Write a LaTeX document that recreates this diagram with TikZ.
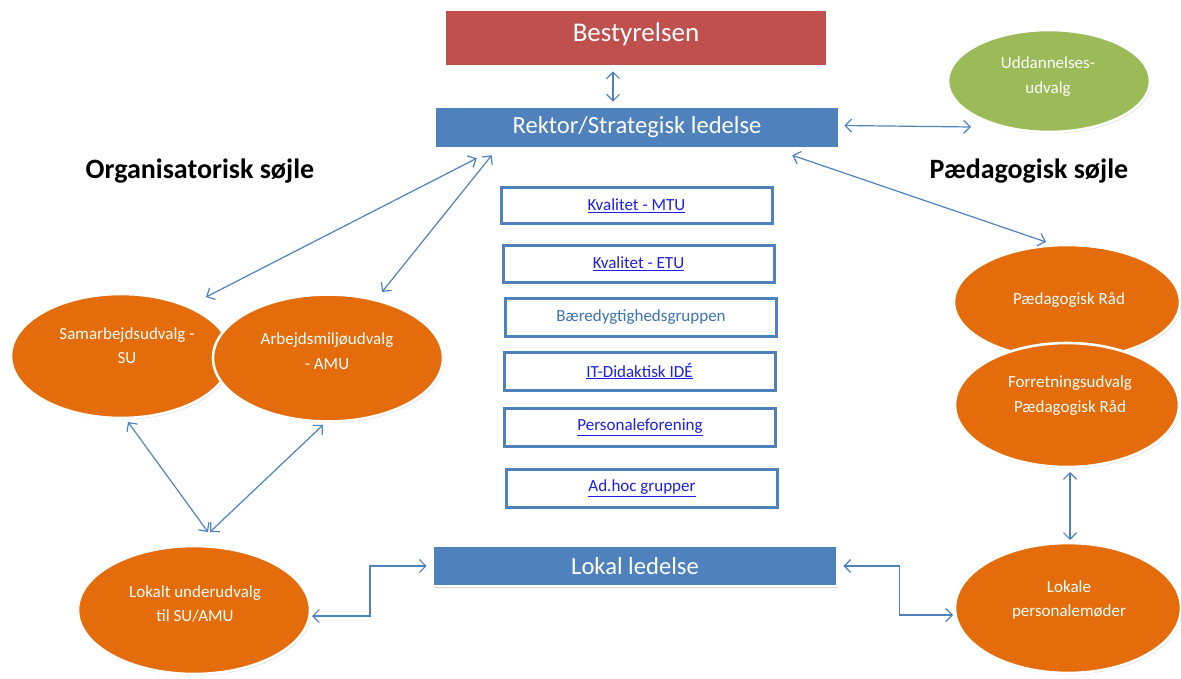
\documentclass[tikz,border=0pt]{standalone}
\usepackage{fontspec}
\setmainfont{Carlito}
\usetikzlibrary{shapes.geometric,arrows.meta,shadows,calc}
\definecolor{redF}{RGB}{192,80,77}
\definecolor{blueF}{RGB}{79,129,189}
\definecolor{greenF}{RGB}{155,187,89}
\definecolor{orangeF}{RGB}{228,108,10}
\definecolor{linkC}{RGB}{30,30,235}
\definecolor{steelC}{RGB}{60,115,180}
\definecolor{arrowC}{RGB}{79,129,189}
\tikzset{
  softshadow/.style={drop shadow={shadow xshift=1.2pt,shadow yshift=-1.5pt,opacity=0.22,fill=black!70}},
  ell/.style={ellipse,draw=white,line width=2.6pt,inner sep=0pt,softshadow},
  orangeell/.style={ell,fill=orangeF},
  etxt/.style={text=white,align=center,inner sep=0pt,font=\fontsize{17}{24.5}\selectfont},
  bigbox/.style={rectangle,draw=white,line width=2.6pt,inner sep=0pt,text=white,softshadow},
  grp/.style={rectangle,draw=blueF,line width=3pt,fill=white,minimum width=271pt,minimum height=36pt,inner sep=0pt,font=\fontsize{17}{20}\selectfont,text=linkC},
  title/.style={font=\fontsize{28}{32}\selectfont\bfseries,text=black,inner sep=0pt},
  conn/.style={draw=arrowC,line width=1.2pt,{Straight Barb[length=6.5pt,width=13pt]}-{Straight Barb[length=6.5pt,width=13pt]}}
}
\begin{document}
\begin{tikzpicture}[x=1pt,y=-1pt]
\useasboundingbox (0,0) rectangle (1181,679);
% top boxes
\node[bigbox,fill=redF,minimum width=382pt,minimum height=56pt,font=\fontsize{27}{30}\selectfont] (best) at (636,38) {\raisebox{3.5pt}[\height][\depth]{Bestyrelsen}};
\node[bigbox,fill=blueF,minimum width=404pt,minimum height=41pt,font=\fontsize{24.6}{28}\selectfont] (rektor) at (637,127.5) {Rektor/Strategisk ledelse};
\node[bigbox,fill=blueF,minimum width=404pt,minimum height=40pt,font=\fontsize{24.6}{28}\selectfont] (lokal) at (635,566) {Lokal ledelse};
% green ellipse
\node[ell,fill=greenF,minimum width=202pt,minimum height=102pt] (udd) at (1049,81) {};
\node[etxt] (uddt) at (1048,76.5) {Uddannelses-\\udvalg};
% titles
\node[title] (orgt) at (200,171) {Organisatorisk søjle};
\node[title] (paedt) at (1029,171) {Pædagogisk søjle};
% left ellipses
\node[orangeell,minimum width=220pt,minimum height=124pt] (su) at (121,356) {};
\node[etxt] (sut) at (127,345.5) {Samarbejdsudvalg -\\SU};
\node[orangeell,minimum width=230pt,minimum height=127pt] (amu) at (328,358) {};
\node[etxt] (amut) at (327,351) {Arbejdsmiljøudvalg\\- AMU};
\node[orangeell,minimum width=232pt,minimum height=128pt] (lokalt) at (194,610) {};
\node[etxt] (lokaltt) at (195,604) {Lokalt underudvalg\\til SU/AMU};
% right ellipses
\node[orangeell,minimum width=226pt,minimum height=114pt] (pr) at (1067,302) {};
\node[etxt] (prt) at (1069,300) {Pædagogisk Råd};
\node[orangeell,minimum width=224pt,minimum height=124pt] (fpr) at (1067,405) {};
\node[etxt] (fprt) at (1070,395.5) {Forretningsudvalg\\Pædagogisk Råd};
\node[orangeell,minimum width=226pt,minimum height=130pt] (lokale) at (1068,608) {};
\node[etxt] (lokalet) at (1069,600) {Lokale\\personalemøder};
% middle group boxes
\node[grp] (g1) at (636.5,205.5) {\underline{Kvalitet - MTU}};
\node[grp] (g2) at (638.5,264) {\underline{Kvalitet - ETU}};
\node[grp,minimum height=38pt,text=steelC] (g3) at (641,317.5) {Bæredygtighedsgruppen};
\node[grp,minimum height=38pt] (g4) at (639.5,371) {\underline{IT-Didaktisk IDÉ}};
\node[grp,minimum height=38pt] (g5) at (640,427) {\underline{Personaleforening}};
\node[grp,minimum height=38pt] (g6) at (642,488.5) {\underline{Ad.hoc grupper}};
% connectors
\draw[conn] ($(best.south)+(-23,4)$) -- ($(rektor.north)+(-24,-4)$);
\draw[conn] ($(rektor.east)+(4,-2)$) -- ($(udd.center)+(-78,46)$);
\draw[conn] ($(rektor.south west)+(43,9)$) -- ($(su.center)+(85,-59)$);
\draw[conn] ($(rektor.south west)+(58,6)$) -- ($(amu.center)+(54,-66)$);
\draw[conn] ($(rektor.south east)+(-48,6)$) -- ($(pr.center)+(-21,-60)$);
\draw[conn] ($(su.center)+(7,66)$) -- ($(lokalt.center)+(14,-78)$);
\draw[conn] ($(amu.center)+(-5,67)$) -- ($(lokalt.center)+(16,-78)$);
\draw[conn] ($(lokalt.center)+(118,6)$) -- ++(58,0) |- ($(lokal.west)+(-5,0)$);
\draw[conn] ($(lokal.east)+(5,0)$) -- ++(56,0) |- ($(lokale.center)+(-115,7)$);
\draw[conn] ($(fpr.center)+(3,67)$) -- ($(lokale.center)+(2,-68)$);
\end{tikzpicture}
\end{document}
